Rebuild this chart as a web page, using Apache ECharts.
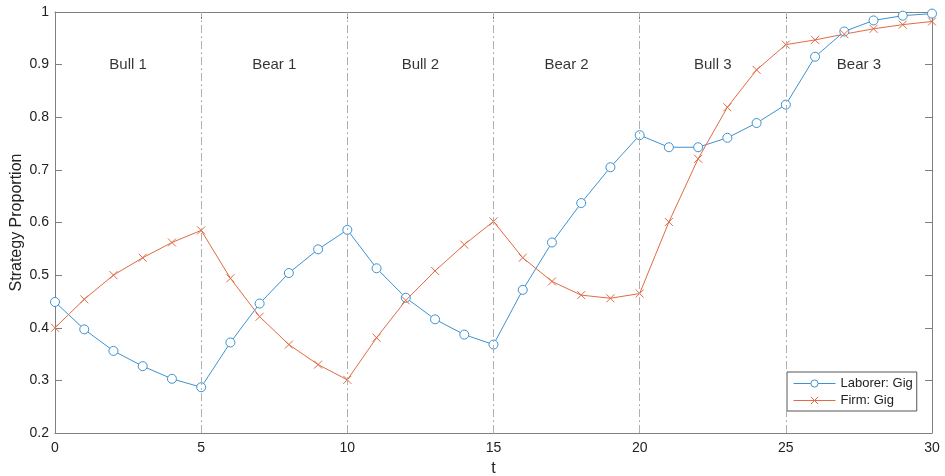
<!DOCTYPE html>
<html>
<head>
<meta charset="utf-8">
<script src="https://cdn.jsdelivr.net/npm/echarts@6/dist/echarts.min.js"></script>
<style>html,body{margin:0;padding:0;background:#fff;}#chart{width:945px;height:476px;}</style>
</head>
<body>
<div id="chart"></div>
<script>
var tValues = [0,1,2,3,4,5,6,7,8,9,10,11,12,13,14,15,16,17,18,19,20,21,22,23,24,25,26,27,28,29,30];
var laborerGig = [0.449,0.397,0.356,0.327,0.303,0.287,0.372,0.446,0.504,0.549,0.586,0.513,0.457,0.416,0.387,0.368,0.472,0.562,0.637,0.705,0.766,0.743,0.743,0.761,0.789,0.824,0.915,0.963,0.984,0.993,0.997];
var firmGig = [0.400,0.454,0.500,0.533,0.562,0.585,0.494,0.421,0.368,0.330,0.301,0.381,0.452,0.508,0.558,0.602,0.533,0.488,0.462,0.456,0.465,0.601,0.721,0.819,0.890,0.938,0.947,0.958,0.968,0.976,0.982];
var phaseNames = ['Bull 1','Bear 1','Bull 2','Bear 2','Bull 3','Bear 3'];
var phaseCenters = [2.5,7.5,12.5,17.5,22.5,27.5];
var phaseLabelY = 0.9;
var phaseBounds = [5,10,15,20,25];
var seriesNames = ['Laborer: Gig','Firm: Gig'];

var blue = '#3d92d2', orange = '#e06b44';
var axisColor = '#808080';
var font = 'Liberation Sans, Arial, Helvetica, sans-serif';
var xMark = 'path://M0,0L10,10M10,0L0,10';

function pairs(ys){ return tValues.map(function(t,i){ return [t, ys[i]]; }); }

var chart = echarts.init(document.getElementById('chart'), null, {renderer:'canvas'});
var axisCommon = {
  axisLine:{show:true, onZero:false, lineStyle:{color:axisColor, width:1}},
  axisTick:{show:true, inside:true, length:7, lineStyle:{color:axisColor}},
  splitLine:{show:false}
};
chart.setOption({
  animation:false,
  backgroundColor:'#fff',
  textStyle:{fontFamily:font},
  grid:{left:55, right:13, top:12, bottom:43, containLabel:false, outerBoundsMode:'none'},
  legend:{
    data:seriesNames,
    orient:'vertical', left:787, top:372,
    itemWidth:42, itemHeight:9, itemGap:4,
    padding:[5,4,4,6],
    backgroundColor:'#fff', borderColor:'#555', borderWidth:1,
    lineStyle:{width:1},
    itemStyle:{borderWidth:1},
    textStyle:{fontSize:13, color:'#222', fontFamily:font}
  },
  xAxis:[
    Object.assign({type:'value', min:0, max:30, interval:5, name:'t', nameLocation:'middle', nameGap:28, nameMoveOverlap:false,
      nameTextStyle:{fontSize:16, color:'#222', fontFamily:font},
      axisLabel:{fontSize:14, color:'#222', margin:8, fontFamily:font}}, axisCommon),
    Object.assign({type:'value', min:0, max:30, interval:5, position:'top', axisLabel:{show:false}}, axisCommon)
  ],
  yAxis:[
    Object.assign({type:'value', min:0.2, max:1, interval:0.1, name:'Strategy Proportion', nameLocation:'middle', nameGap:30, nameMoveOverlap:false,
      nameTextStyle:{fontSize:16, color:'#222', fontFamily:font},
      axisLabel:{fontSize:14, color:'#222', margin:6, fontFamily:font}}, axisCommon),
    Object.assign({type:'value', min:0.2, max:1, interval:0.1, position:'right', axisLabel:{show:false}}, axisCommon)
  ],
  series:[
    {
      type:'line', name:'phases', data:[], silent:true,
      markLine:{
        silent:true, symbol:['none','none'], label:{show:false},
        lineStyle:{color:'#b0b0b0', width:1, type:[8,3,2,3]},
        data: phaseBounds.map(function(v){ return {xAxis:v}; })
      }
    },
    {
      type:'scatter', name:'phaseLabels', symbolSize:0, silent:true,
      data: phaseCenters.map(function(c,i){ return [c, phaseLabelY, phaseNames[i]]; }),
      label:{show:true, position:'inside', formatter:function(p){return p.value[2];}, fontSize:15, color:'#000', fontFamily:font}
    },
    {
      type:'line', name:seriesNames[0], data:pairs(laborerGig),
      symbol:'circle', symbolSize:9, showAllSymbol:true,
      lineStyle:{color:blue, width:1},
      itemStyle:{color:'#fff', borderColor:blue, borderWidth:1}
    },
    {
      type:'line', name:seriesNames[1], data:pairs(firmGig),
      symbol:xMark, symbolSize:8, showAllSymbol:true,
      lineStyle:{color:orange, width:1},
      itemStyle:{color:orange, borderColor:orange, borderWidth:1}
    }
  ]
});
</script>
</body>
</html>
